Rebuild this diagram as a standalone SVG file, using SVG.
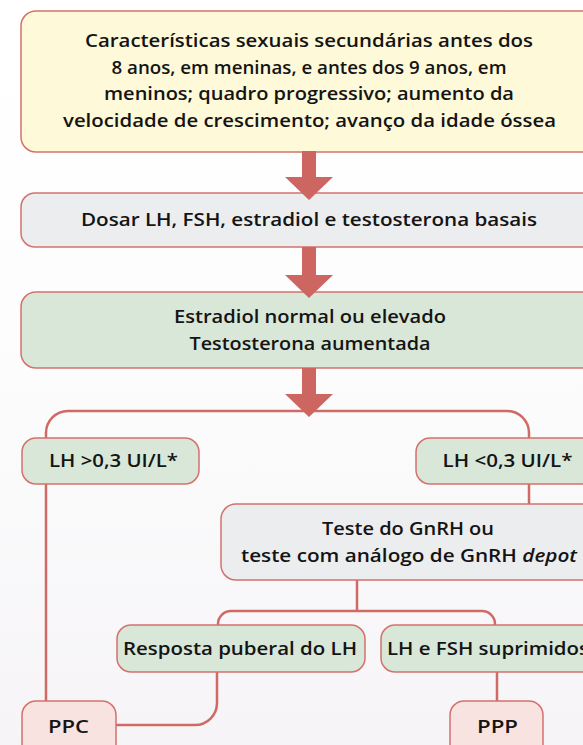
<svg xmlns="http://www.w3.org/2000/svg" width="583" height="745" viewBox="0 0 583 745">
<defs>
<linearGradient id="bg" x1="0" y1="0" x2="0" y2="1">
<stop offset="0" stop-color="#ffffff"/>
<stop offset="0.45" stop-color="#fdfdfd"/>
<stop offset="1" stop-color="#f6f4f7"/>
</linearGradient>
</defs>
<style>
.box{stroke:#d4716c;stroke-width:1.5}
.y{fill:#fef9d8}
.g{fill:#ecedef}
.gr{fill:#d8e7d8}
.p{fill:#f8e3e0}
.t{font-family:"Open Sans","Liberation Sans",sans-serif;font-weight:600;font-size:18.5px;fill:#141414;text-anchor:middle}
.c{fill:none;stroke:#cf6a65;stroke-width:2.5}
.a{fill:#cd6661}
</style>
<rect width="583" height="745" fill="url(#bg)"/>
<g id="connectors">
<path class="c" d="M46,438 V433 A22,22 0 0 1 68,411 H507 A22,22 0 0 1 529,433 V438"/>
<path class="c" d="M46,484 V701"/>
<path class="c" d="M529,484 V504"/>
<path class="c" d="M357,580 V611"/>
<path class="c" d="M218,625 V624 A13,13 0 0 1 231,611 H482 A13,13 0 0 1 495,624 V625"/>
<path class="c" d="M217,672 V703 A22,22 0 0 1 195,725 H116"/>
<path class="c" d="M497,672 V701"/>
</g>
<g id="n1"><rect class="box y" x="21" y="11" width="577" height="141" rx="15"/>
<text class="t" x="309" y="47" textLength="448" lengthAdjust="spacingAndGlyphs">Características sexuais secundárias antes dos</text>
<text class="t" x="309" y="73.5" textLength="395" lengthAdjust="spacingAndGlyphs">8 anos, em meninas, e antes dos 9 anos, em</text>
<text class="t" x="309" y="100" textLength="410" lengthAdjust="spacingAndGlyphs">meninos; quadro progressivo; aumento da</text>
<text class="t" x="309.5" y="126.5" textLength="493" lengthAdjust="spacingAndGlyphs">velocidade de crescimento; avanço da idade óssea</text></g>
<g id="n2"><rect class="box g" x="21" y="193" width="577" height="54" rx="14"/>
<text class="t" x="309" y="225.5" textLength="456" lengthAdjust="spacingAndGlyphs">Dosar LH, FSH, estradiol e testosterona basais</text></g>
<g id="n3"><rect class="box gr" x="21" y="292" width="577" height="76" rx="15"/>
<text class="t" x="310" y="323" textLength="272" lengthAdjust="spacingAndGlyphs">Estradiol normal ou elevado</text>
<text class="t" x="310" y="350" textLength="241" lengthAdjust="spacingAndGlyphs">Testosterona aumentada</text></g>
<g id="n4"><rect class="box gr" x="22" y="438" width="177" height="46" rx="14"/>
<text class="t" x="113.5" y="467" textLength="129" lengthAdjust="spacingAndGlyphs">LH &gt;0,3 UI/L*</text></g>
<g id="n5"><rect class="box gr" x="416" y="438" width="182" height="46" rx="14"/>
<text class="t" x="507.5" y="467" textLength="130" lengthAdjust="spacingAndGlyphs">LH &lt;0,3 UI/L*</text></g>
<g id="n6"><rect class="box g" x="221" y="504" width="377" height="76" rx="15"/>
<text class="t" x="408" y="535" textLength="172" lengthAdjust="spacingAndGlyphs">Teste do GnRH ou</text>
<text class="t" x="409" y="562" textLength="336" lengthAdjust="spacingAndGlyphs">teste com análogo de GnRH <tspan font-style="italic">depot</tspan></text></g>
<g id="n7"><rect class="box gr" x="117" y="625" width="248" height="47" rx="14"/>
<text class="t" x="240" y="655" textLength="234" lengthAdjust="spacingAndGlyphs">Resposta puberal do LH</text></g>
<g id="n8"><rect class="box gr" x="381" y="625" width="226" height="47" rx="14"/>
<text class="t" x="488" y="655" textLength="202" lengthAdjust="spacingAndGlyphs">LH e FSH suprimidos</text></g>
<g id="n9"><rect class="box p" x="22" y="701" width="94" height="60" rx="14"/>
<text class="t" x="68.5" y="733" textLength="41" lengthAdjust="spacingAndGlyphs">PPC</text></g>
<g id="n10"><rect class="box p" x="450" y="701" width="93" height="60" rx="14"/>
<text class="t" x="497.5" y="733" textLength="41" lengthAdjust="spacingAndGlyphs">PPP</text></g>
<g id="arrows">
<polygon class="a" points="302,151 316,151 316,177 333,177 309,200 285,177 302,177"/>
<polygon class="a" points="302,247 316,247 316,275 333,275 309,298 285,275 302,275"/>
<polygon class="a" points="302,368 316,368 316,394 333,394 309,417 285,394 302,394"/>
</g>
</svg>
